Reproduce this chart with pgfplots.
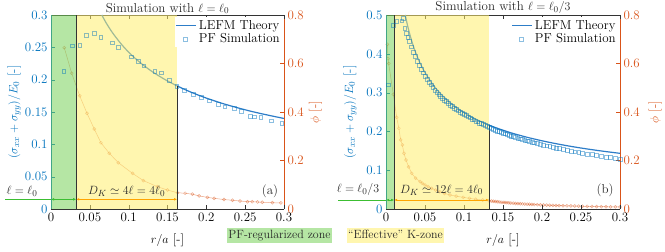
\documentclass[border=0pt]{standalone}
\usepackage{pgfplots}
\pgfplotsset{compat=1.18}
\usetikzlibrary{arrows.meta}
\definecolor{mblue}{rgb}{0,0.447,0.741}
\definecolor{lblue}{RGB}{45,125,200}
\definecolor{morange}{rgb}{0.85,0.325,0.098}
\definecolor{bgreen}{RGB}{120,210,90}
\definecolor{byellow}{RGB}{255,238,110}
\definecolor{agreen}{RGB}{60,190,50}
\definecolor{aorange}{RGB}{255,165,0}
\newcommand{\fs}{\fontsize{13}{15.6}\selectfont}
\tikzset{
  band/.style={fill opacity=0.55, draw=none},
  arr/.style={line width=0.8bp, {Latex[length=3bp,width=2.6bp]}-{Latex[length=3bp,width=2.6bp]}},
}
\begin{document}
\begin{tikzpicture}[font=\fs]
\useasboundingbox (0,0) rectangle (665bp,252bp);
\pgfplotsset{
  base/.style={scale only axis, height=194bp, xmin=0, xmax=0.3, tick align=inside,
    major tick length=4bp, enlargelimits=false, anchor=south west, font=\fs,
    tick label style={font=\fs}, label style={font=\fs},
    xtick={0,0.05,0.1,0.15,0.2,0.25,0.3}, xticklabels={0,0.05,0.1,0.15,0.2,0.25,0.3},
    scaled ticks=false},
  phiax/.style={base, axis y line*=right, axis x line=none, ymin=0, ymax=0.8,
    ytick={0,0.2,0.4,0.6,0.8}, yticklabels={0,0.2,0.4,0.6,0.8},
    y axis line style={draw=morange, line width=0.6bp}, ytick style={draw=morange},
    yticklabel style={text=morange}, ylabel={$\phi$ [-]},
    ylabel style={text=morange, at={(axis description cs:1.135,0.5)}, anchor=center}},
  sigax/.style={base, axis y line*=left, axis x line*=box, clip=false,
    y axis line style={draw=mblue, line width=0.6bp}, ytick style={draw=mblue},
    yticklabel style={text=mblue},
    x axis line style={draw=black!80, line width=0.6bp}, xtick style={draw=black!80},
    xlabel={$r/a$ [-]}, xlabel style={at={(axis description cs:0.5,-0.16)}, anchor=center},
    ylabel={$(\sigma_{xx}+\sigma_{yy})/E_0$ [-]},
    ylabel style={text=mblue, at={(axis description cs:-0.158,0.5)}, anchor=center},
    every axis title shift=0pt,
    title style={font=\fs, inner sep=1bp, text=black!85},
    legend cell align=left,
    legend style={at={(0.995,0.99)}, anchor=north east, draw=none, fill=white, inner sep=1pt,
      font=\fs, row sep=-1bp}},
  orangeplot/.style={color=morange, opacity=0.5, line width=0.5bp, mark=o, mark size=1.5bp},
  squareplot/.style={only marks, color=mblue, opacity=0.45, mark=square, mark size=1.9bp,
    mark options={line width=0.5bp}},
  lefm/.style={color=lblue, line width=1.2bp, no marks, smooth,
    legend image code/.code={\draw[lblue, line width=1.2bp] (0bp,0bp) -- (20bp,0bp);}},
}
% ---------------- left: phi axis
\begin{axis}[phiax, width=233bp, at={(51bp,43bp)}]
\addplot[orangeplot] coordinates {
(0.0171,0.665)(0.0266,0.560)(0.0369,0.467)(0.0463,0.395)(0.0557,0.330)(0.0643,0.273)
(0.075,0.230)(0.0866,0.191)(0.105,0.147)(0.119,0.117)(0.137,0.092)(0.150,0.078)
(0.163,0.067)(0.1727,0.065)(0.182,0.061)(0.1907,0.054)(0.2014,0.048)(0.210,0.044)
(0.2228,0.039)(0.2336,0.036)(0.2434,0.033)(0.253,0.030)(0.259,0.030)(0.266,0.029)
(0.272,0.028)(0.285,0.026)(0.296,0.025)};
\end{axis}
% ---------------- left: stress axis
\begin{axis}[sigax, width=233bp, at={(51bp,43bp)}, ymin=0, ymax=0.3,
  ytick={0,0.05,0.1,0.15,0.2,0.25,0.3}, yticklabels={0,0.05,0.1,0.15,0.2,0.25,0.3},
  title={Simulation with $\ell=\ell_0$}]
\addplot[lefm] coordinates {
(0.0654,0.300)(0.07,0.2899)(0.075,0.2801)(0.08,0.2712)(0.09,0.2557)(0.10,0.2425)
(0.11,0.2313)(0.12,0.2214)(0.13,0.2127)(0.14,0.2050)(0.15,0.1980)(0.16,0.1918)
(0.17,0.1860)(0.18,0.1808)(0.19,0.1760)(0.20,0.1715)(0.22,0.1635)(0.24,0.1566)
(0.26,0.1504)(0.28,0.1450)(0.30,0.1400)};
\addlegendentry{LEFM Theory}
\addplot[squareplot] coordinates {
(0.0163,0.2134)(0.0272,0.2525)(0.0371,0.2532)(0.0458,0.2690)(0.0557,0.2717)(0.0640,0.2658)
(0.0784,0.2570)(0.0868,0.2497)(0.1038,0.2355)(0.1120,0.2280)(0.1195,0.2216)(0.1335,0.2130)
(0.1420,0.2108)(0.1520,0.1995)(0.1620,0.1900)(0.1714,0.1840)(0.1830,0.1780)(0.1930,0.1727)
(0.2036,0.1675)(0.2150,0.1624)(0.2237,0.1580)(0.2357,0.1557)(0.2450,0.1515)(0.2563,0.1438)
(0.2620,0.1427)(0.2700,0.1418)(0.2837,0.1365)(0.2970,0.1325)};
\addlegendentry{PF Simulation}
\fill[bgreen, band] (axis cs:0,0) rectangle (axis cs:0.0325,0.3);
\fill[byellow, band] (axis cs:0.0325,0) rectangle (axis cs:0.1625,0.3);
\draw[black!80, line width=0.8bp] (axis cs:0.0325,0) -- (axis cs:0.0325,0.3);
\draw[black!80, line width=0.8bp] (axis cs:0.1625,0) -- (axis cs:0.1625,0.1903);
\draw[agreen, line width=0.8bp] (axis cs:-0.0592,0.015) -- (axis cs:0,0.015);
\draw[agreen, arr] (axis cs:0,0.015) -- (axis cs:0.0325,0.015);
\draw[aorange, arr] (axis cs:0.0325,0.015) -- (axis cs:0.1625,0.015);
\node[text=black!85] at (axis cs:-0.0373,0.0268) {$\ell=\ell_0$};
\node[text=black!85] at (axis cs:0.0975,0.0268) {$D_K\simeq 4\ell=4\ell_0$};
\node[text=black!85] at (axis cs:0.282,0.0268) {(a)};
\end{axis}
% ---------------- right: phi axis
\begin{axis}[phiax, width=234bp, at={(386bp,43bp)}, ylabel style={at={(axis description cs:1.15,0.5)}}]
\addplot[orangeplot] coordinates {
(0.0017,0.679)(0.0026,0.620)(0.0034,0.600)(0.0094,0.473)(0.0137,0.378)(0.0165,0.333)
(0.0188,0.285)(0.021,0.264)(0.023,0.230)(0.0256,0.202)(0.029,0.174)(0.033,0.147)
(0.038,0.127)(0.0436,0.113)(0.0465,0.106)(0.050,0.099)(0.054,0.092)(0.0586,0.085)
(0.0635,0.078)(0.069,0.071)(0.075,0.064)(0.082,0.058)(0.090,0.053)(0.099,0.048)
(0.107,0.044)(0.115,0.040)(0.124,0.037)(0.132,0.034)
(0.135,0.0327)(0.1375,0.0317)(0.140,0.0308)(0.1425,0.0299)(0.145,0.0290)(0.1475,0.0281)
(0.150,0.0274)(0.1525,0.0266)(0.155,0.0259)(0.1575,0.0252)(0.160,0.0245)(0.163,0.0238)
(0.166,0.0230)(0.169,0.0223)(0.172,0.0217)(0.175,0.0211)(0.178,0.0205)(0.181,0.0199)
(0.184,0.0193)(0.187,0.0188)(0.190,0.0183)(0.194,0.0177)(0.198,0.0171)(0.202,0.0165)
(0.206,0.0160)(0.210,0.0154)(0.214,0.0150)(0.218,0.0145)(0.222,0.0140)(0.227,0.0135)
(0.232,0.0130)(0.237,0.0126)(0.242,0.0121)(0.247,0.0117)(0.252,0.0113)(0.258,0.0109)
(0.264,0.0105)(0.270,0.0101)(0.276,0.0097)(0.282,0.0094)(0.288,0.0090)(0.294,0.0087)
(0.300,0.0084)};
\end{axis}
% ---------------- right: stress axis
\begin{axis}[sigax, width=234bp, at={(386bp,43bp)}, ymin=0, ymax=0.5,
  ytick={0,0.1,0.2,0.3,0.4,0.5}, yticklabels={0,0.1,0.2,0.3,0.4,0.5},
  ylabel style={at={(axis description cs:-0.154,0.5)}},
  title={Simulation with $\ell=\ell_0/3$}]
\addplot[lefm] coordinates {
(0.0247,0.500)(0.027,0.4783)(0.03,0.4538)(0.035,0.4201)(0.04,0.3930)(0.045,0.3705)
(0.05,0.3515)(0.06,0.3209)(0.07,0.2971)(0.08,0.2779)(0.09,0.2620)(0.10,0.2486)
(0.11,0.2370)(0.12,0.2269)(0.13,0.2180)(0.14,0.2101)(0.16,0.1965)(0.18,0.1853)
(0.20,0.1758)(0.22,0.1676)(0.24,0.1604)(0.26,0.1541)(0.28,0.1485)(0.30,0.1435)};
\addlegendentry{LEFM Theory}
\addplot[squareplot] coordinates {
(0.0026,0.320)(0.0094,0.474)(0.0137,0.483)(0.0201,0.485)(0.0222,0.491)
(0.024,0.466)(0.026,0.453)(0.028,0.443)(0.030,0.432)(0.0325,0.418)(0.035,0.405)
(0.0375,0.393)(0.040,0.381)(0.0425,0.370)(0.045,0.360)(0.0475,0.351)(0.050,0.342)
(0.0525,0.334)(0.055,0.327)(0.0575,0.320)(0.060,0.313)(0.0625,0.307)(0.065,0.301)
(0.0675,0.296)(0.070,0.291)(0.0725,0.286)(0.075,0.281)(0.0775,0.277)(0.080,0.272)
(0.0825,0.268)(0.085,0.264)(0.0875,0.260)(0.090,0.257)(0.0925,0.253)(0.095,0.250)
(0.0975,0.247)(0.100,0.244)(0.1025,0.241)(0.105,0.238)(0.1075,0.235)(0.110,0.232)
(0.1125,0.230)(0.115,0.227)(0.1175,0.225)(0.120,0.222)(0.1225,0.220)(0.125,0.218)
(0.1275,0.216)(0.130,0.213)(0.1325,0.211)
(0.135,0.2075)(0.1375,0.2054)(0.140,0.2034)(0.1425,0.2013)(0.145,0.1994)(0.1475,0.1975)
(0.150,0.1956)(0.1525,0.1939)(0.155,0.1919)(0.1575,0.1903)(0.160,0.1885)(0.163,0.1865)
(0.166,0.1846)(0.169,0.1827)(0.172,0.1808)(0.175,0.1791)(0.178,0.1773)(0.181,0.1757)
(0.184,0.1739)(0.187,0.1723)(0.190,0.1707)(0.194,0.1687)(0.198,0.1665)(0.202,0.1647)
(0.206,0.1628)(0.210,0.1609)(0.214,0.1591)(0.218,0.1573)(0.222,0.1556)(0.227,0.1536)
(0.232,0.1516)(0.237,0.1497)(0.242,0.1477)(0.247,0.1459)(0.252,0.1441)(0.258,0.1420)
(0.264,0.1401)(0.270,0.1381)(0.276,0.1362)(0.282,0.1344)(0.288,0.1327)(0.294,0.1309)
(0.300,0.1292)};
\addlegendentry{PF Simulation}
\fill[bgreen, band] (axis cs:0,0) rectangle (axis cs:0.0105,0.5);
\fill[byellow, band] (axis cs:0.0105,0) rectangle (axis cs:0.132,0.5);
\draw[black!80, line width=0.8bp] (axis cs:0.0105,0) -- (axis cs:0.0105,0.5);
\draw[black!80, line width=0.8bp] (axis cs:0.132,0) -- (axis cs:0.132,0.2163);
\draw[agreen, line width=0.8bp] (axis cs:-0.0615,0.0232) -- (axis cs:0,0.0232);
\draw[agreen, arr] (axis cs:0,0.0232) -- (axis cs:0.0105,0.0232);
\draw[aorange, arr] (axis cs:0.0105,0.0232) -- (axis cs:0.132,0.0232);
\node[text=black!85] at (axis cs:-0.0359,0.049) {$\ell=\ell_0/3$};
\node[text=black!85] at (axis cs:0.0713,0.049) {$D_K\simeq 12\ell=4\ell_0$};
\node[text=black!85] at (axis cs:0.281,0.049) {(b)};
\end{axis}
% ---------------- bottom legend
\node[fill=bgreen, fill opacity=0.55, text opacity=1, text=black!85, inner xsep=1.5bp,
  inner ysep=1.5bp, text height=9bp, text depth=3bp, font=\fontsize{12}{14}\selectfont]
  at (279.5bp,16.5bp) {PF-regularized zone};
\node[fill=byellow, fill opacity=0.55, text opacity=1, text=black!85, inner xsep=1.5bp,
  inner ysep=1.5bp, text height=9bp, text depth=3bp, font=\fontsize{12}{14}\selectfont]
  at (395.5bp,16.5bp) {“Effective” K-zone};
\end{tikzpicture}
\end{document}
